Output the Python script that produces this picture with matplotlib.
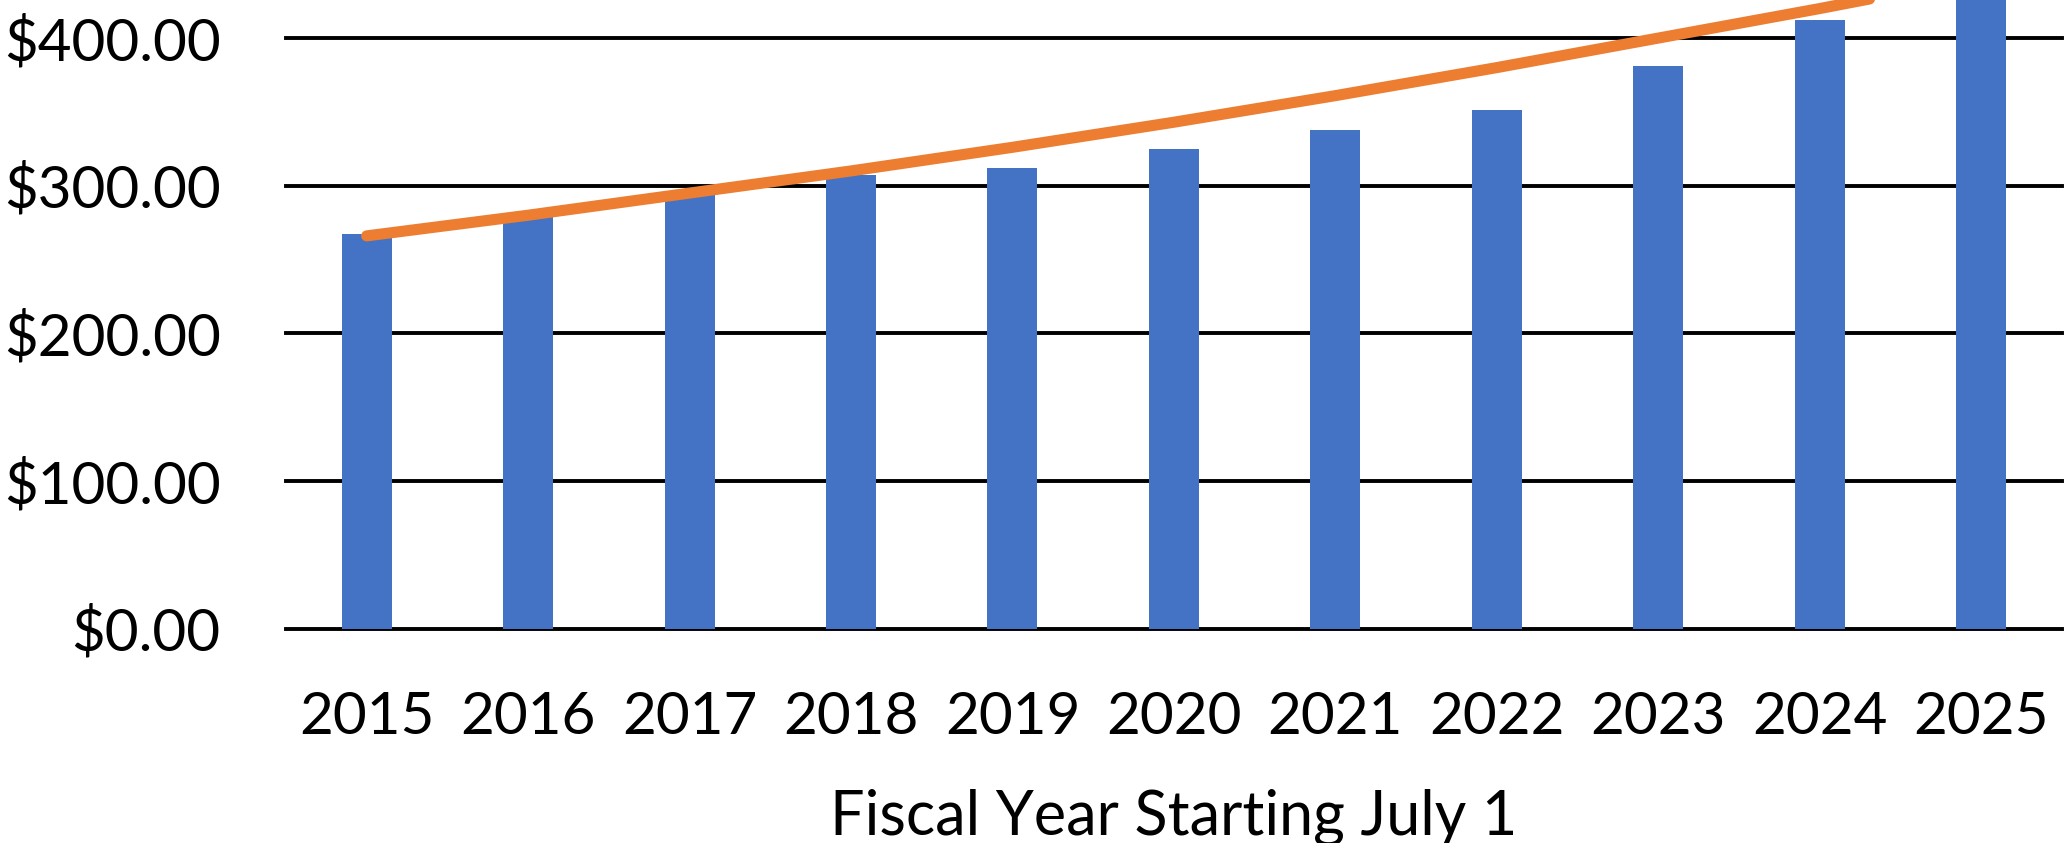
import numpy as np
import matplotlib
matplotlib.use("Agg")
import matplotlib.pyplot as plt
from matplotlib.ticker import FuncFormatter

# data
years = ["2015", "2016", "2017", "2018", "2019", "2020",
         "2021", "2022", "2023", "2024", "2025"]
bar_values = [267, 280, 295, 307, 312, 325, 338, 351, 381, 412, 450]
trend_values = [266, 280, 295, 310, 326, 343, 361, 380, 400, 420, 441]
y_ticks = [0, 100, 200, 300, 400]

plt.rcParams['font.family'] = ['Lato', 'DejaVu Sans']

fig = plt.figure(figsize=(20.66, 8.43), dpi=100)
ax = fig.add_axes([0.1384, 0.2544, 0.8596, 0.7456])

x = np.arange(len(years))
ax.bar(x, bar_values, width=0.31, color="#4472C4", zorder=3)
ax.plot(x, trend_values, color="#ED7D31", linewidth=8,
        solid_capstyle="round", zorder=4)

ax.set_xlim(-0.5, len(years) - 0.5)
ax.set_ylim(0, 425.8)
ax.set_yticks(y_ticks)
ax.yaxis.set_major_formatter(FuncFormatter(lambda v, p: f"${v:,.2f}"))
ax.set_xticks(x)
ax.set_xticklabels(years)

# gridlines
for v in y_ticks:
    ax.axhline(v, color="black", linewidth=2.8, zorder=2, clip_on=False)

for s in ax.spines.values():
    s.set_visible(False)
ax.tick_params(axis="both", length=0, labelsize=42)
ax.tick_params(axis="y", pad=47)
ax.tick_params(axis="x", pad=45)

ax.set_xlabel("Fiscal Year Starting July 1", fontsize=44, labelpad=32)

fig.savefig("out.png", dpi=100)
